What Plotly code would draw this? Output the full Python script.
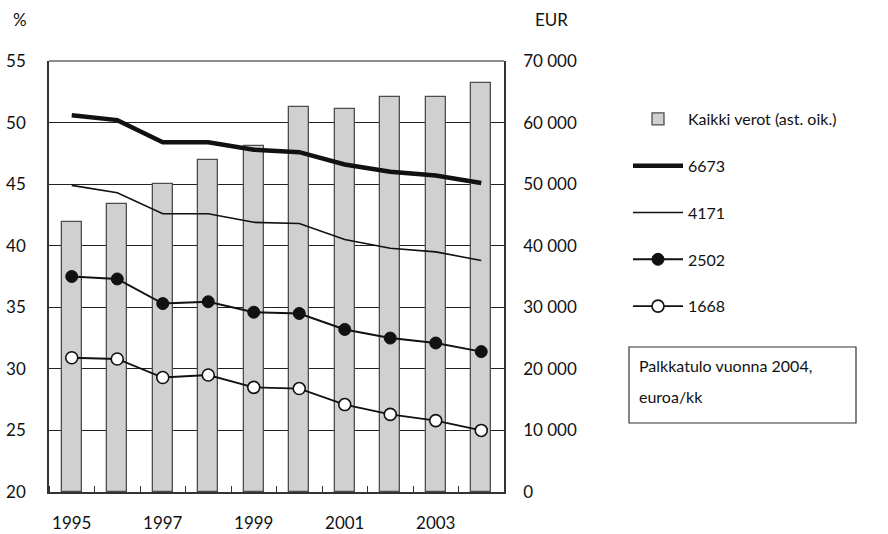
import plotly.graph_objects as go

# Years and series
years = [1995, 1996, 1997, 1998, 1999, 2000, 2001, 2002, 2003, 2004]
kaikki_verot = [43800, 46800, 50000, 53900, 56150, 62600, 62250, 64200, 64200, 66500]
tulo_6673 = [50.6, 50.2, 48.4, 48.4, 47.8, 47.6, 46.6, 46.0, 45.7, 45.1]
tulo_4171 = [44.9, 44.3, 42.6, 42.6, 41.9, 41.8, 40.5, 39.8, 39.5, 38.8]
tulo_2502 = [37.5, 37.3, 35.3, 35.45, 34.6, 34.5, 33.2, 32.5, 32.1, 31.4]
tulo_1668 = [30.9, 30.8, 29.3, 29.5, 28.5, 28.4, 27.1, 26.3, 25.8, 25.0]

pct_ticks = [20, 25, 30, 35, 40, 45, 50, 55]
eur_ticks = [0, 10000, 20000, 30000, 40000, 50000, 60000, 70000]
eur_labels = ["0", "10 000", "20 000", "30 000", "40 000", "50 000", "60 000", "70 000"]
year_ticks = [1995, 1997, 1999, 2001, 2003]

FONT = "Lato"
INK = "#111111"

# plot area in pixels (used to place the free-standing texts)
L, R, T, B = 49, 504, 61, 492


def px(x):
    return (x - L) / (R - L)


def py(y):
    return (B - y) / (B - T)


fig = go.Figure()

# Bars on the base (EUR, right) axis so the lines sit above them
fig.add_trace(go.Bar(
    x=years, y=kaikki_verot, name="Kaikki verot (ast. oik.)",
    width=0.44, marker=dict(color="#d0d0d0", line=dict(color="#4d4d4d", width=1.3)),
    yaxis="y", legendgroup="a",
))

fig.add_trace(go.Scatter(
    x=years, y=tulo_6673, name="6673", mode="lines",
    line=dict(color=INK, width=4.5), yaxis="y2", legendgroup="b",
))
fig.add_trace(go.Scatter(
    x=years, y=tulo_4171, name="4171", mode="lines",
    line=dict(color=INK, width=1.6), yaxis="y2", legendgroup="c",
))
fig.add_trace(go.Scatter(
    x=years, y=tulo_2502, name="2502", mode="lines+markers",
    line=dict(color=INK, width=2),
    marker=dict(symbol="circle", size=12, color=INK, line=dict(color=INK, width=1)),
    yaxis="y2", legendgroup="d",
))
fig.add_trace(go.Scatter(
    x=years, y=tulo_1668, name="1668", mode="lines+markers",
    line=dict(color=INK, width=1.8),
    marker=dict(symbol="circle", size=12, color="white", line=dict(color=INK, width=1.6)),
    yaxis="y2", legendgroup="e",
))

fig.update_layout(
    width=888, height=534,
    margin=dict(l=L, r=888 - R, t=T, b=534 - B),
    paper_bgcolor="white", plot_bgcolor="white",
    font=dict(family=FONT, size=17, color=INK),
    showlegend=True,
    bargap=0,
    xaxis=dict(
        range=[1994.5, 2004.5], automargin=False,
        tickmode="array", tickvals=year_ticks, ticktext=[str(y) for y in year_ticks],
        ticks="", showgrid=False, zeroline=False,
        showline=True, linecolor="#333", linewidth=1.5,
        ticklabelstandoff=15,
        tickfont=dict(size=17, family=FONT, color=INK),
        minor=dict(tickmode="linear", tick0=1994.5, dtick=1, ticks="inside",
                   ticklen=6, tickcolor="#333", tickwidth=1.2, showgrid=False),
    ),
    yaxis=dict(
        side="right", range=[0, 70000], automargin=False,
        tickmode="array", tickvals=eur_ticks, ticktext=eur_labels,
        showgrid=True, gridcolor="#222", gridwidth=1.1,
        zeroline=False, showline=True, linecolor="#333", linewidth=1.5,
        ticks="", ticklabelstandoff=14,
        tickfont=dict(size=17, family=FONT, color=INK),
    ),
    yaxis2=dict(
        side="left", overlaying="y", range=[20, 55], automargin=False,
        tickmode="array", tickvals=pct_ticks,
        showgrid=False, zeroline=False,
        showline=True, linecolor="#333", linewidth=1.5,
        ticks="", ticklabelstandoff=18,
        tickfont=dict(size=17, family=FONT, color=INK),
    ),
    legend=dict(
        x=px(628), y=py(102), xanchor="left", yanchor="top",
        font=dict(size=16, family=FONT, color=INK),
        traceorder="grouped", tracegroupgap=23, itemwidth=50,
        bgcolor="rgba(0,0,0,0)", borderwidth=0,
    ),
    shapes=[
        # grey top border of the plot frame
        dict(type="line", xref="paper", yref="paper", x0=0, x1=1, y0=1, y1=1,
             line=dict(color="#8c8c8c", width=2)),
        # frame for the income note
        dict(type="rect", xref="paper", yref="paper",
             x0=px(629), x1=px(856), y0=py(423), y1=py(347),
             line=dict(color="#333", width=1.2), fillcolor="white"),
    ],
    annotations=[
        dict(text="%", xref="paper", yref="paper", x=px(20), y=py(20),
             showarrow=False, xanchor="center", yanchor="middle",
             font=dict(size=17, family=FONT, color=INK)),
        dict(text="EUR", xref="paper", yref="paper", x=px(551), y=py(20),
             showarrow=False, xanchor="center", yanchor="middle",
             font=dict(size=17, family=FONT, color=INK)),
        dict(text="Palkkatulo vuonna 2004,", xref="paper", yref="paper",
             x=px(637), y=py(366),
             showarrow=False, xanchor="left", yanchor="middle",
             font=dict(size=16, family=FONT, color=INK)),
        dict(text="euroa/kk", xref="paper", yref="paper",
             x=px(637), y=py(396),
             showarrow=False, xanchor="left", yanchor="middle",
             font=dict(size=16, family=FONT, color=INK)),
    ],
)

fig.write_html("out.html")
